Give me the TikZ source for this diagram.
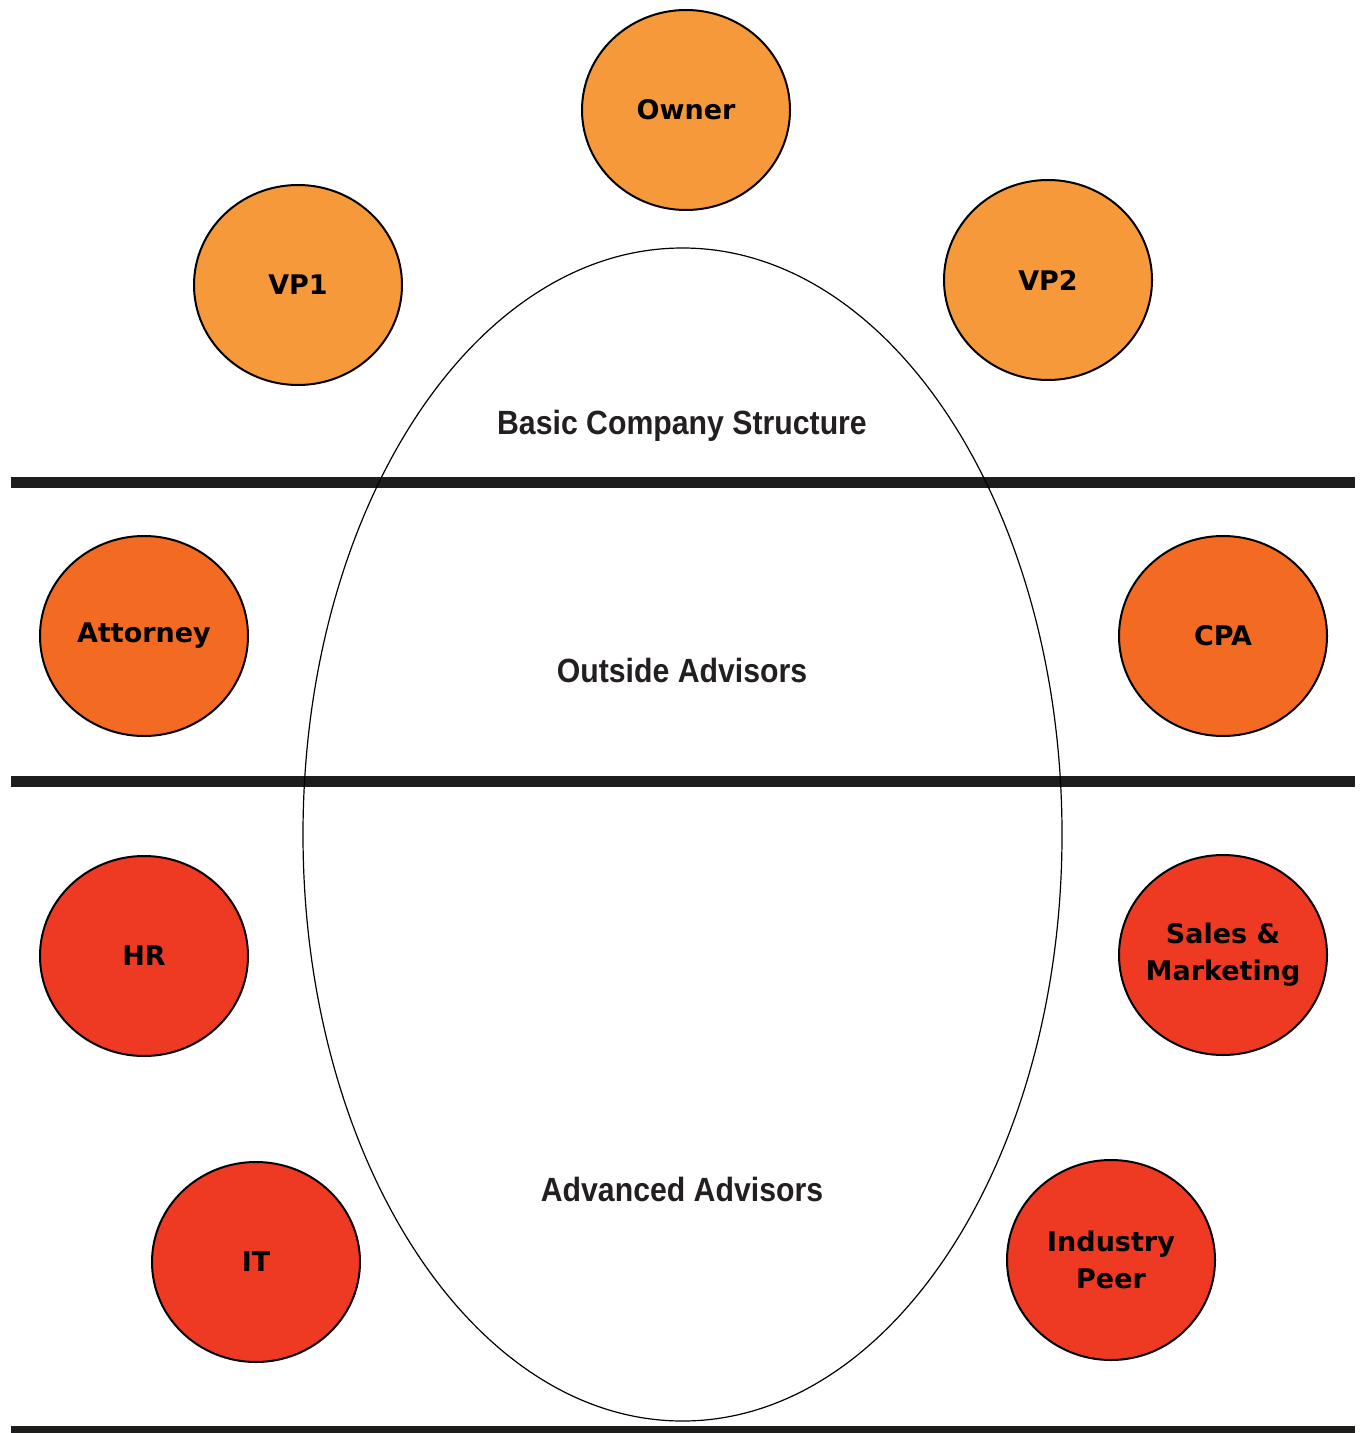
\documentclass[tikz,border=0pt]{standalone}
\usepackage{fontspec}
\usetikzlibrary{shapes.geometric}
\newfontfamily\circfont{DejaVu Sans}
\newfontfamily\narrowfont[FakeStretch=0.9]{Liberation Sans}
\definecolor{lightorange}{HTML}{F6993B}
\definecolor{midorange}{HTML}{F36B22}
\definecolor{redorange}{HTML}{EE3A23}
\definecolor{barblack}{HTML}{1D1D1B}
\definecolor{textblack}{HTML}{231F20}
\tikzset{
  person/.style={ellipse, draw=black, line width=1pt, minimum width=104pt, minimum height=100pt,
    inner sep=0pt, align=center, font=\circfont\bfseries\fontsize{13.5}{18.5}\selectfont, text=black},
  tierA/.style={person, fill=lightorange},
  tierB/.style={person, fill=midorange},
  tierC/.style={person, fill=redorange},
  bar/.style={draw=barblack, line width=5.5pt},
  section/.style={font=\narrowfont\bfseries\fontsize{16.8}{20}\selectfont, text=textblack, inner sep=0pt},
  table/.style={ellipse, draw=black, line width=0.6pt, minimum width=379.5pt, minimum height=586.5pt, inner sep=0pt}
}
\begin{document}
\begin{tikzpicture}[x=0.5pt,y=-0.5pt]
\useasboundingbox (0,0) rectangle (1361,1433);
\clip (0,0) rectangle (1361,1433);
% bars
\coordinate (b1l) at (11,482.5); \coordinate (b1r) at (1355,482.5);
\coordinate (b2l) at (11,781.5); \coordinate (b2r) at (1355,781.5);
\coordinate (b3l) at (11,1431.5); \coordinate (b3r) at (1355,1431.5);
\draw[bar] (b1l) -- (b1r);
\draw[bar] (b2l) -- (b2r);
\draw[bar] (b3l) -- (b3r);
% table
\node[table] (tbl) at (682.5,834.5) {};
% section labels
\node[section] (basic) at (682,426) {Basic Company Structure};
\node[section] (outside) at (682,670) {Outside Advisors};
\node[section] (advanced) at (682,1189) {Advanced Advisors};
% people
\node[tierA] (owner) at (686,110) {Owner};
\node[tierA] (vp1) at (298,285) {VP1};
\node[tierA] (vp2) at (1048,280) {VP2};
\node[tierB] (attorney) at (144,636) {Attorney};
\node[tierB] (cpa) at (1223,636) {CPA};
\node[tierC] (hr) at (144,956) {HR};
\node[tierC, inner xsep=-6pt] (sales) at (1223,955) {Sales \&\\Marketing};
\node[tierC] (it) at (256,1262) {IT};
\node[tierC] (peer) at (1111,1260) {Industry\\Peer};
\end{tikzpicture}
\end{document}
